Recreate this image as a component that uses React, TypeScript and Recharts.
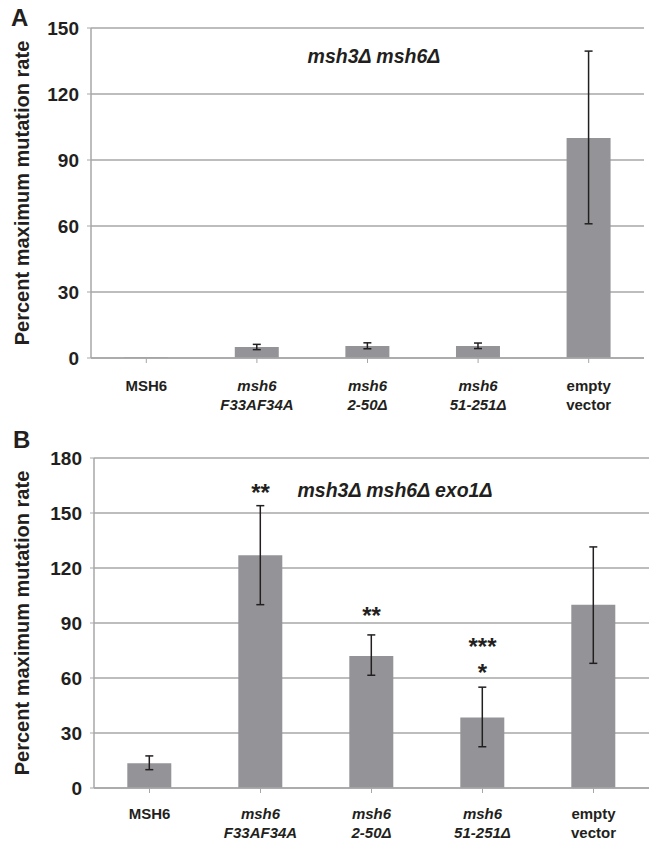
import React from 'react';
import { BarChart, Bar, XAxis, YAxis, CartesianGrid, ErrorBar, ReferenceDot } from 'recharts';

const categories = ['MSH6', 'msh6 F33AF34A', 'msh6 2-50Δ', 'msh6 51-251Δ', 'empty vector'];
const catLine1 = ['MSH6', 'msh6', 'msh6', 'msh6', 'empty'];
const catLine2 = ['', 'F33AF34A', '2-50Δ', '51-251Δ', 'vector'];
const catItalic = [false, true, true, true, false];

const valuesA = [0.3, 5, 5.5, 5.5, 100];
const errA: ([number, number] | null)[] = [null, [1.2, 1.2], [1.3, 1.4], [1.2, 1.3], [39, 39.5]];
const ticksA = [0, 30, 60, 90, 120, 150];

const valuesB = [13.5, 127, 72, 38.5, 100];
const errB: [number, number][] = [[3.5, 4], [27, 27], [10.5, 11.5], [16, 16.5], [32, 31.5]];
const ticksB = [0, 30, 60, 90, 120, 150, 180];

const starCats = ['msh6 F33AF34A', 'msh6 2-50Δ', 'msh6 51-251Δ', 'msh6 51-251Δ'];
const starY = [164, 97, 80, 66];
const starText = ['**', '**', '***', '*'];

const dataA = categories.map((c, i) => ({ cat: c, v: valuesA[i], e: errA[i] }));
const dataB = categories.map((c, i) => ({ cat: c, v: valuesB[i], e: errB[i] }));

const TEXT = '#231f20';
const GRID = '#a7a7a9';
const BAR = '#949498';
const FONT = '"Liberation Sans", Arial, sans-serif';

const makeCatTick = (d1: number, d2: number) => (props: any) => {
  const { x, y, payload } = props;
  const i = categories.indexOf(payload.value);
  const style = catItalic[i] ? 'italic' : 'normal';
  return (
    <g>
      <text x={x} y={y + d1} textAnchor="middle" fontSize={15} fontWeight="bold" fontStyle={style} fill={TEXT} fontFamily={FONT}>
        {catLine1[i]}
      </text>
      <text x={x} y={y + d2} textAnchor="middle" fontSize={15} fontWeight="bold" fontStyle={style} fill={TEXT} fontFamily={FONT}>
        {catLine2[i]}
      </text>
    </g>
  );
};
const CatTickA = makeCatTick(26, 45);
const CatTickB = makeCatTick(24, 43);

const StarLabel = (text: string) => (props: any) => {
  const { viewBox } = props;
  return (
    <text x={viewBox.x} y={viewBox.y + 14} textAnchor="middle" fontSize={24} fontWeight="bold" fill={TEXT} fontFamily={FONT}>
      {text}
    </text>
  );
};

const yTick = { fontSize: 19, fontWeight: 'bold', fill: TEXT, fontFamily: FONT };

export default function App() {
  return (
    <div style={{ position: 'absolute', left: 0, top: 0, width: 650, height: 841, background: '#fff', fontFamily: FONT }}>
      <div style={{ position: 'absolute', left: 0, top: 0 }}>
        <BarChart width={650} height={420} data={dataA} margin={{ top: 28, right: 6, bottom: 12, left: 0 }} barCategoryGap="30%">
          <CartesianGrid horizontal vertical={false} stroke={GRID} strokeWidth={1.5} />
          <XAxis dataKey="cat" tick={<CatTickA />} interval={0} height={50} axisLine={{ stroke: GRID, strokeWidth: 1.5 }} tickLine={{ stroke: GRID }} tickSize={5} />
          <YAxis domain={[0, 150]} ticks={ticksA} width={91} tick={yTick} axisLine={{ stroke: GRID, strokeWidth: 1.5 }} tickLine={{ stroke: GRID }} tickSize={4} tickMargin={8} />
          <Bar dataKey="v" fill={BAR} isAnimationActive={false}>
            <ErrorBar dataKey="e" width={4} stroke={TEXT} strokeWidth={1.5} direction="y" />
          </Bar>
        </BarChart>
      </div>
      <div style={{ position: 'absolute', left: 0, top: 420 }}>
        <BarChart width={650} height={421} data={dataB} margin={{ top: 38, right: 1, bottom: 3, left: 0 }} barCategoryGap="30%">
          <CartesianGrid horizontal vertical={false} stroke={GRID} strokeWidth={1.5} />
          <XAxis dataKey="cat" tick={<CatTickB />} interval={0} height={50} axisLine={{ stroke: GRID, strokeWidth: 1.5 }} tickLine={{ stroke: GRID }} tickSize={5} />
          <YAxis domain={[0, 180]} ticks={ticksB} width={94} tick={yTick} axisLine={{ stroke: GRID, strokeWidth: 1.5 }} tickLine={{ stroke: GRID }} tickSize={4} tickMargin={8} />
          <Bar dataKey="v" fill={BAR} isAnimationActive={false}>
            <ErrorBar dataKey="e" width={4} stroke={TEXT} strokeWidth={1.5} direction="y" />
          </Bar>
          {starCats.map((c, i) => (
            <ReferenceDot key={i} x={c} y={starY[i]} r={0} stroke="none" fill="none" label={StarLabel(starText[i])} />
          ))}
        </BarChart>
      </div>
      <svg width={650} height={841} style={{ position: 'absolute', left: 0, top: 0, pointerEvents: 'none' }}>
        <text x={11} y={26} fontSize={24} fontWeight="bold" fill={TEXT} fontFamily={FONT}>A</text>
        <text x={13} y={448} fontSize={24} fontWeight="bold" fill={TEXT} fontFamily={FONT}>B</text>
        <text x={374} y={63} textAnchor="middle" fontSize={19.5} fontWeight="bold" fontStyle="italic" fill={TEXT} fontFamily={FONT}>msh3Δ msh6Δ</text>
        <text x={395} y={497} textAnchor="middle" fontSize={19.5} fontWeight="bold" fontStyle="italic" fill={TEXT} fontFamily={FONT}>msh3Δ msh6Δ exo1Δ</text>
        <text transform="translate(29,193) rotate(-90)" textAnchor="middle" fontSize={20} fontWeight="bold" fill={TEXT} fontFamily={FONT}>Percent maximum mutation rate</text>
        <text transform="translate(29,623) rotate(-90)" textAnchor="middle" fontSize={20} fontWeight="bold" fill={TEXT} fontFamily={FONT}>Percent maximum mutation rate</text>
      </svg>
    </div>
  );
}
